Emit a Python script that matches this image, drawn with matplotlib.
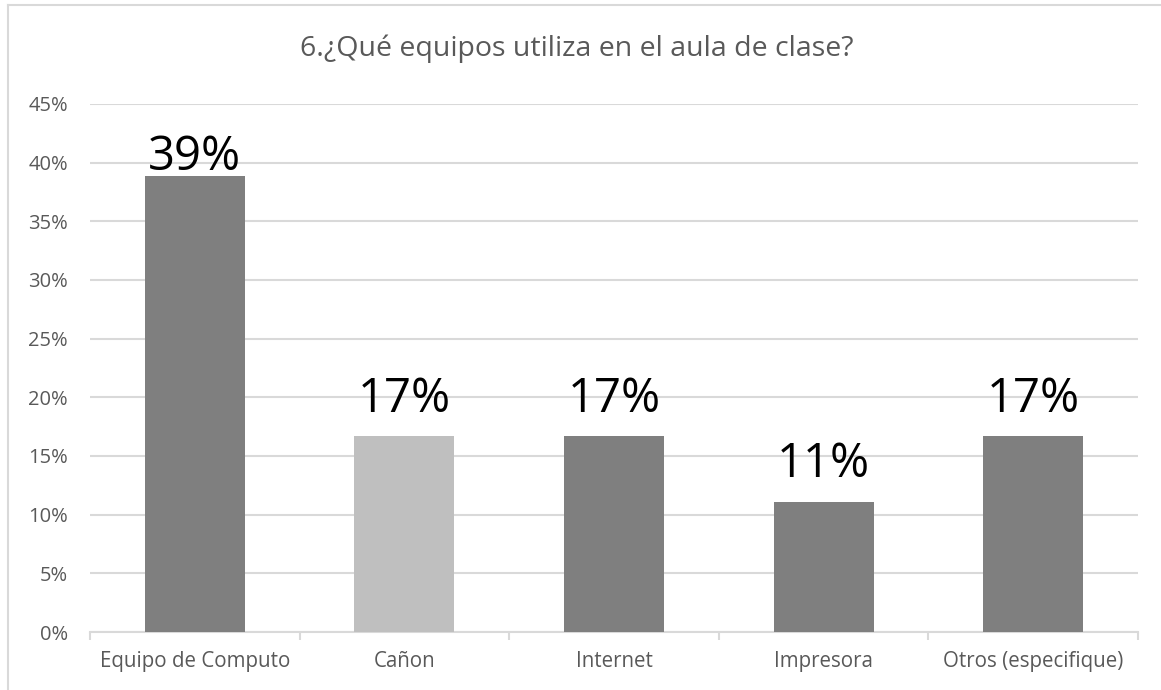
import matplotlib
matplotlib.use('Agg')
import matplotlib.pyplot as plt
from matplotlib.ticker import PercentFormatter
from matplotlib.lines import Line2D

categories = ['Equipo de Computo', 'Cañon', 'Internet', 'Impresora', 'Otros (especifique)']
values = [0.3889, 0.1667, 0.1667, 0.1111, 0.1667]
labels = ['39%', '17%', '17%', '11%', '17%']
bar_colors = ['#7f7f7f', '#bfbfbf', '#7f7f7f', '#7f7f7f', '#7f7f7f']
title = '6.¿Qué equipos utiliza en el aula de clase?'

plt.rcParams['font.family'] = ['Open Sans', 'DejaVu Sans']

fig = plt.figure(figsize=(11.61, 6.9), dpi=100)
ax = fig.add_axes([90 / 1161, 1 - 632 / 690, (1138 - 90) / 1161, (632 - 104) / 690])

x = range(len(categories))
ax.bar(x, values, width=0.477, color=bar_colors, zorder=3)

# data labels above the bars, kept below the top gridline like excel does
for i, (v, lab) in enumerate(zip(values, labels)):
	y = min(v + 0.021, 0.394)
	ax.text(i, y, lab, ha='center', va='baseline', fontsize=34, color='black', zorder=4)

ax.set_xlim(-0.5, len(categories) - 0.5)
ax.set_ylim(0, 0.45)
ax.set_yticks([i * 0.05 for i in range(10)])
ax.yaxis.set_major_formatter(PercentFormatter(1.0, decimals=0))
ax.set_xticks(list(x))
ax.set_xticklabels(categories)
ax.set_xticks([i - 0.5 for i in range(len(categories) + 1)], minor=True)

ax.tick_params(axis='y', length=0, pad=16, labelsize=14.5, labelcolor='#595959')
ax.tick_params(axis='x', which='major', length=0, pad=14, labelsize=14.8, labelcolor='#595959')
ax.tick_params(axis='x', which='minor', length=6, width=1.5, color='#d9d9d9')

ax.grid(axis='y', color='#d9d9d9', linewidth=1.5, zorder=0)
for s in ['top', 'right', 'left']:
	ax.spines[s].set_visible(False)
ax.spines['bottom'].set_color('#d9d9d9')
ax.spines['bottom'].set_linewidth(1.5)

fig.text(0.497, 1 - 49 / 690, title, ha='center', va='center', fontsize=20.5, color='#595959')

# chart frame (only top and left edges show in the crop)
fig.add_artist(Line2D([8 / 1161, 8 / 1161], [0, 1 - 5 / 690], transform=fig.transFigure, color='#d9d9d9', linewidth=1.5))
fig.add_artist(Line2D([8 / 1161, 1], [1 - 5 / 690, 1 - 5 / 690], transform=fig.transFigure, color='#d9d9d9', linewidth=1.5))

fig.savefig('out.png', dpi=100)
